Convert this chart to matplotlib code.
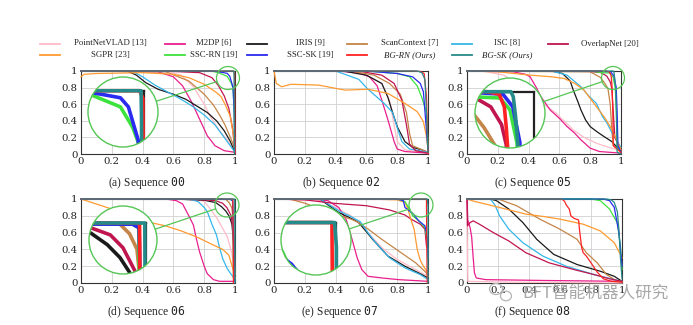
import matplotlib.pyplot as plt
from matplotlib.lines import Line2D
from matplotlib.patches import Circle, Ellipse

W, H = 693, 325

# method keys, legend labels and colours (legend order)
methods = ["PointNetVLAD", "M2DP", "IRIS", "ScanContext", "ISC", "OverlapNet",
           "SGPR", "SSC-RN", "SSC-SK", "BG-RN", "BG-SK"]
labels = ["PointNetVLAD [13]", "M2DP [6]", "IRIS [9]", "ScanContext [7]", "ISC [8]",
          "OverlapNet [20]", "SGPR [23]", "SSC-RN [19]", "SSC-SK [19]",
          "BG-RN (Ours)", "BG-SK (Ours)"]
colors = ["#ffbcc8", "#ea1e8d", "#1a1a1a", "#c58548", "#35b6ea", "#c0164f",
          "#ff9a30", "#3de33d", "#2a2af0", "#ff2222", "#278a8a"]

tick_vals = [0, 0.2, 0.4, 0.6, 0.8, 1]
tick_text = ["0", "0.2", "0.4", "0.6", "0.8", "1"]

# precision-recall curves, (recall, precision)
seq00 = {
    "PointNetVLAD": [(0, 1), (0.55, 1), (0.65, 0.95), (0.73, 0.81), (0.8, 0.6), (0.84, 0.45),
                     (0.9, 0.28), (0.94, 0.19), (1, 0.05)],
    "M2DP": [(0, 1), (0.5, 0.99), (0.6, 0.93), (0.66, 0.82), (0.72, 0.62), (0.77, 0.42),
             (0.82, 0.22), (0.87, 0.1), (0.93, 0.04), (1, 0.02)],
    "IRIS": [(0, 1), (0.3, 1), (0.36, 0.95), (0.42, 0.86), (0.5, 0.78), (0.6, 0.72),
             (0.68, 0.66), (0.75, 0.58), (0.82, 0.5), (0.88, 0.4), (0.93, 0.28),
             (0.97, 0.15), (1, 0.02)],
    "ScanContext": [(0, 1), (0.55, 0.99), (0.7, 0.88), (0.8, 0.72), (0.86, 0.59),
                    (0.9, 0.47), (0.935, 0.35), (0.97, 0.2), (1, 0.06)],
    "ISC": [(0, 1), (0.33, 1), (0.4, 0.93), (0.48, 0.83), (0.56, 0.75), (0.64, 0.67),
            (0.72, 0.58), (0.8, 0.47), (0.87, 0.35), (0.93, 0.2), (1, 0.02)],
    "OverlapNet": [(0, 1), (0.6, 0.995), (0.77, 0.98), (0.85, 0.92), (0.89, 0.83),
                   (0.93, 0.7), (0.96, 0.55), (0.985, 0.3), (1, 0.02)],
    "SGPR": [(0, 0.93), (0.02, 0.96), (0.1, 0.97), (0.4, 0.98), (0.6, 0.96), (0.7, 0.92),
             (0.8, 0.84), (0.88, 0.74), (0.91, 0.69), (0.94, 0.58), (0.97, 0.45),
             (0.99, 0.22), (1, 0.08)],
    "SSC-RN": [(0, 1), (0.84, 1), (0.886, 0.984), (0.949, 0.936), (0.975, 0.856),
               (0.987, 0.796), (0.995, 0.5), (1, 0.02)],
    "SSC-SK": [(0, 1), (0.85, 1), (0.89, 0.992), (0.949, 0.972), (0.966, 0.936),
               (0.987, 0.804), (0.995, 0.5), (1, 0.02)],
    "BG-RN": [(0, 1), (0.99, 1), (0.997, 0.97), (1, 0)],
    "BG-SK": [(0, 1), (0.993, 1), (0.994, 0.9), (0.996, 0)],
}

seq02 = {
    "PointNetVLAD": [(0, 1), (0.45, 1), (0.6, 0.95), (0.7, 0.85), (0.75, 0.65),
                     (0.78, 0.35), (0.8, 0.15), (0.85, 0.05), (1, 0.01)],
    "M2DP": [(0, 1), (0.4, 1), (0.55, 0.98), (0.62, 0.93), (0.67, 0.82), (0.7, 0.65),
             (0.74, 0.41), (0.78, 0.15), (0.8, 0.06), (0.85, 0.03), (1, 0.01)],
    "IRIS": [(0, 1), (0.45, 1), (0.6, 0.95), (0.7, 0.85), (0.74, 0.68), (0.77, 0.5),
             (0.8, 0.33), (0.85, 0.15), (0.9, 0.08), (0.96, 0.05), (1, 0.02)],
    "ScanContext": [(0, 1), (0.5, 1), (0.65, 0.95), (0.75, 0.85), (0.82, 0.72),
                    (0.86, 0.5), (0.88, 0.25), (0.9, 0.1), (1, 0.02)],
    "ISC": [(0, 1), (0.4, 1), (0.55, 0.9), (0.61, 0.78), (0.66, 0.7), (0.72, 0.6),
            (0.77, 0.5), (0.8, 0.32), (0.83, 0.15), (0.88, 0.06), (1, 0.02)],
    "OverlapNet": [(0, 1), (0.55, 1), (0.7, 0.95), (0.78, 0.85), (0.83, 0.65),
                   (0.86, 0.35), (0.88, 0.12), (0.92, 0.04), (1, 0.01)],
    "SGPR": [(0, 1), (0.015, 0.85), (0.05, 0.81), (0.11, 0.84), (0.29, 0.83),
             (0.46, 0.77), (0.61, 0.78), (0.74, 0.73), (0.85, 0.61), (0.93, 0.51),
             (0.97, 0.39), (0.99, 0.21), (1, 0.05)],
    "SSC-RN": [(0, 1), (0.6, 1), (0.8, 0.97), (0.88, 0.93), (0.93, 0.82), (0.96, 0.68),
               (0.99, 0.5), (1, 0.1)],
    "SSC-SK": [(0, 1), (0.6, 1), (0.8, 0.97), (0.9, 0.93), (0.95, 0.85), (0.97, 0.75),
               (0.985, 0.4), (1, 0.05)],
    "BG-RN": [(0, 1), (0.9, 1), (0.95, 0.995), (0.975, 0.97), (0.99, 0.7), (1, 0)],
    "BG-SK": [(0, 1), (0.93, 1), (0.96, 0.98), (0.98, 0.9), (0.99, 0.5), (1, 0.02)],
}

seq05 = {
    "PointNetVLAD": [(0, 1), (0.1, 1), (0.24, 0.95), (0.32, 0.85), (0.41, 0.73),
                     (0.5, 0.6), (0.58, 0.49), (0.69, 0.29), (0.76, 0.2), (0.84, 0.13),
                     (0.92, 0.08), (1, 0.04)],
    "M2DP": [(0, 1), (0.3, 0.99), (0.38, 0.96), (0.41, 0.93), (0.45, 0.8), (0.48, 0.69),
             (0.54, 0.53), (0.6, 0.43), (0.65, 0.33), (0.7, 0.25), (0.74, 0.17),
             (0.8, 0.07), (0.86, 0.03), (1, 0.01)],
    "IRIS": [(0, 1), (0.55, 1), (0.62, 0.97), (0.67, 0.88), (0.69, 0.77), (0.72, 0.63),
             (0.74, 0.53), (0.77, 0.41), (0.8, 0.33), (0.85, 0.26), (0.89, 0.21),
             (0.94, 0.15), (0.97, 0.09), (1, 0.04)],
    "ScanContext": [(0, 1), (0.8, 0.99), (0.865, 0.924), (0.893, 0.857), (0.915, 0.79),
                    (0.93, 0.6), (0.94, 0.3), (0.95, 0.1), (1, 0.02)],
    "ISC": [(0, 1), (0.55, 1), (0.65, 0.95), (0.74, 0.81), (0.79, 0.7), (0.84, 0.61),
            (0.88, 0.45), (0.91, 0.37), (0.94, 0.26), (0.97, 0.17), (1, 0.08)],
    "OverlapNet": [(0, 1), (0.8, 0.995), (0.87, 0.98), (0.907, 0.94), (0.93, 0.87),
                   (0.94, 0.79), (0.95, 0.5), (0.96, 0.2), (1, 0.05)],
    "SGPR": [(0, 1), (0.2, 0.99), (0.41, 0.95), (0.55, 0.93), (0.63, 0.91), (0.7, 0.85),
             (0.76, 0.77), (0.8, 0.67), (0.84, 0.57), (0.89, 0.45), (0.93, 0.33),
             (0.97, 0.18), (1, 0.05)],
    "SSC-RN": [(0, 1), (0.8, 1), (0.88, 0.979), (0.927, 0.975), (0.948, 0.928),
               (0.963, 0.797), (0.97, 0.5), (0.975, 0.1), (1, 0.02)],
    "SSC-SK": [(0, 1), (0.85, 1), (0.888, 0.995), (0.933, 0.99), (0.954, 0.94),
               (0.969, 0.8), (0.975, 0.5), (0.98, 0.1), (1, 0.02)],
    "BG-RN": [(0, 1), (0.9, 1), (0.925, 0.99), (0.936, 0.94), (0.94, 0.86),
              (0.943, 0.78), (0.947, 0.5), (0.95, 0.1), (1, 0.02)],
    "BG-SK": [(0, 1), (0.95, 1), (0.955, 0.98), (0.96, 0.9), (0.965, 0.79),
              (0.97, 0.5), (0.975, 0.02), (1, 0)],
}

seq06 = {
    "PointNetVLAD": [(0, 1), (0.74, 1), (0.8, 0.97), (0.84, 0.88), (0.88, 0.78),
                     (0.92, 0.65), (0.95, 0.55), (0.98, 0.35), (1, 0.1)],
    "M2DP": [(0, 1), (0.55, 1), (0.62, 0.98), (0.66, 0.94), (0.7, 0.8), (0.73, 0.69),
             (0.75, 0.52), (0.77, 0.37), (0.8, 0.2), (0.82, 0.11), (0.86, 0.04),
             (0.9, 0.02), (1, 0.02)],
    "IRIS": [(0, 1), (0.6, 1), (0.8, 0.985), (0.874, 0.958), (0.912, 0.909),
             (0.941, 0.855), (0.963, 0.793), (0.98, 0.7), (0.99, 0.5), (1, 0.1)],
    "ScanContext": [(0, 1), (0.9, 1), (0.941, 0.995), (0.963, 0.955), (0.98, 0.89),
                    (0.985, 0.8), (0.995, 0.5), (1, 0.1)],
    "ISC": [(0, 1), (0.7, 1), (0.76, 0.97), (0.8, 0.9), (0.82, 0.85), (0.85, 0.7),
            (0.88, 0.57), (0.9, 0.42), (0.92, 0.29), (0.95, 0.17), (0.98, 0.09),
            (1, 0.05)],
    "OverlapNet": [(0, 1), (0.6, 1), (0.8, 0.99), (0.874, 0.98), (0.919, 0.95),
                   (0.948, 0.896), (0.975, 0.8), (0.99, 0.6), (1, 0.2)],
    "SGPR": [(0, 1), (0.15, 0.91), (0.3, 0.82), (0.45, 0.72), (0.55, 0.68), (0.65, 0.62),
             (0.75, 0.55), (0.85, 0.46), (0.92, 0.4), (0.96, 0.33), (0.99, 0.15),
             (1, 0.05)],
    "SSC-RN": [(0, 1), (0.97, 0.995), (0.984, 0.98), (0.988, 0.5), (0.99, 0.05), (1, 0.02)],
    "SSC-SK": [(0, 1), (0.97, 0.995), (0.985, 0.98), (0.99, 0.5), (0.993, 0.05), (1, 0.02)],
    "BG-RN": [(0, 1), (0.986, 1), (0.988, 0.5), (0.99, 0)],
    "BG-SK": [(0, 1), (0.998, 1), (1, 0)],
}

seq07 = {
    "PointNetVLAD": [(0, 1), (0.3, 0.98), (0.4, 0.9), (0.46, 0.84), (0.5, 0.8),
                     (0.6, 0.62), (0.7, 0.42), (0.8, 0.28), (0.9, 0.18), (1, 0.08)],
    "M2DP": [(0, 1), (0.25, 1), (0.35, 0.98), (0.42, 0.9), (0.47, 0.75), (0.51, 0.5),
             (0.54, 0.3), (0.57, 0.16), (0.61, 0.08), (0.7, 0.06), (0.81, 0.04),
             (1, 0.02)],
    "IRIS": [(0, 1), (0.3, 1), (0.35, 0.93), (0.42, 0.84), (0.5, 0.77), (0.55, 0.72),
             (0.6, 0.61), (0.64, 0.52), (0.74, 0.32), (0.85, 0.2), (0.95, 0.11),
             (1, 0.06)],
    "ScanContext": [(0, 1), (0.1, 1), (0.2, 0.95), (0.3, 0.88), (0.4, 0.82), (0.5, 0.76),
                    (0.55, 0.72), (0.62, 0.63), (0.7, 0.52), (0.81, 0.38), (0.92, 0.24),
                    (0.99, 0.12), (1, 0.08)],
    "ISC": [(0, 1), (0.3, 1), (0.36, 0.93), (0.43, 0.85), (0.5, 0.79), (0.56, 0.73),
            (0.61, 0.6), (0.66, 0.48), (0.75, 0.3), (0.85, 0.18), (0.95, 0.1),
            (1, 0.04)],
    "OverlapNet": [(0, 1), (0.2, 0.99), (0.38, 0.95), (0.6, 0.92), (0.75, 0.87),
                   (0.85, 0.81), (0.89, 0.76), (0.95, 0.7), (0.98, 0.64), (0.99, 0.44),
                   (1, 0.4)],
    "SGPR": [(0, 1), (0.6, 1), (0.8, 0.99), (0.85, 0.96), (0.87, 0.88), (0.89, 0.75),
             (0.91, 0.64), (0.93, 0.4), (0.95, 0.27), (0.97, 0.2), (1, 0.12)],
    "SSC-RN": [(0, 1), (0.8, 1), (0.85, 0.97), (0.88, 0.88), (0.9, 0.8), (0.94, 0.74),
               (0.98, 0.66), (0.995, 0.5), (1, 0.3)],
    "SSC-SK": [(0, 1), (0.8, 1), (0.84, 0.98), (0.85, 0.9), (0.9, 0.83), (0.94, 0.74),
               (0.98, 0.68), (0.99, 0.6), (0.995, 0.5), (1, 0.3)],
    "BG-RN": [(0, 1), (0.99, 1), (0.992, 0.5), (0.995, 0)],
    "BG-SK": [(0, 1), (0.996, 1), (1, 0.9), (1, 0)],
}

seq08 = {
    "PointNetVLAD": [(0, 1), (0.002, 0.5), (0.005, 0.02), (0.3, 0.01), (1, 0)],
    "M2DP": [(0, 1), (0.005, 0.75), (0.02, 0.66), (0.03, 0.55), (0.04, 0.3),
             (0.048, 0.12), (0.06, 0.06), (0.12, 0.04), (0.5, 0.03), (1, 0.02)],
    "IRIS": [(0, 1), (0.15, 1), (0.19, 0.98), (0.27, 0.88), (0.36, 0.72), (0.45, 0.52),
             (0.56, 0.34), (0.71, 0.22), (0.86, 0.14), (0.95, 0.08), (1, 0.02)],
    "ScanContext": [(0, 1), (0.2, 1), (0.32, 0.92), (0.47, 0.76), (0.6, 0.64),
                    (0.71, 0.52), (0.77, 0.36), (0.84, 0.24), (0.9, 0.1), (0.97, 0.02),
                    (1, 0.01)],
    "ISC": [(0, 1), (0.15, 1), (0.18, 0.93), (0.21, 0.8), (0.27, 0.64), (0.36, 0.48),
            (0.49, 0.32), (0.64, 0.2), (0.82, 0.1), (0.95, 0.04), (1, 0.02)],
    "OverlapNet": [(0, 1), (0.003, 0.68), (0.02, 0.72), (0.04, 0.74), (0.08, 0.7),
                   (0.17, 0.6), (0.27, 0.5), (0.38, 0.36), (0.53, 0.24), (0.69, 0.16),
                   (0.82, 0.1), (0.92, 0.05), (1, 0.02)],
    "SGPR": [(0, 1), (0.05, 0.97), (0.12, 0.94), (0.25, 0.88), (0.38, 0.82), (0.5, 0.79),
             (0.6, 0.76), (0.75, 0.7), (0.86, 0.62), (0.95, 0.48), (0.99, 0.34),
             (1, 0.3)],
    "SSC-RN": [(0, 1), (0.8, 1), (0.86, 0.98), (0.92, 0.88), (0.95, 0.78), (0.97, 0.72),
               (0.99, 0.44), (1, 0.16)],
    "SSC-SK": [(0, 1), (0.88, 1), (0.92, 0.98), (0.95, 0.9), (0.96, 0.8), (0.98, 0.6),
               (0.99, 0.4), (1, 0.2)],
    "BG-RN": [(0, 1), (0.6, 1), (0.62, 0.99), (0.63, 0.97), (0.64, 0.93), (0.66, 0.88),
              (0.67, 0.8), (0.69, 0.77), (0.72, 0.75), (0.725, 0.65), (0.73, 0.57),
              (0.74, 0.42), (0.75, 0.36), (0.77, 0.32), (0.8, 0.24), (0.84, 0.13),
              (0.88, 0.05), (0.93, 0.02), (1, 0.01)],
    "BG-SK": [(0, 1), (0.9, 1), (0.93, 0.99), (0.95, 0.96), (0.97, 0.85), (0.98, 0.64),
              (0.99, 0.3), (1, 0.05)],
}

GREEN = "#55c655"


def px_box(x0, y0, x1, y1):
    # pixel box (y downwards) -> figure fraction rect
    return [x0 / W, 1 - y1 / H, (x1 - x0) / W, (y1 - y0) / H]


def draw_curves(ax, curves, lw, clip_path=None):
    for m, c in zip(methods, colors):
        r, p = zip(*curves[m])
        ln, = ax.plot(r, p, color=c, lw=lw, zorder=3, solid_joinstyle="round")
        if clip_path is None:
            ln.set_clip_on(False)
        else:
            ln.set_clip_path(clip_path)


def draw_spy(fig, box, curves, small, rs, big, rb):
    x0, y0, x1, y1 = box
    sx, sy = small
    bx, by = big
    cx = (sx - x0) / (x1 - x0)
    cy = (y1 - sy) / (y1 - y0)
    dx = rs / (x1 - x0)
    dy = rs / (y1 - y0)

    ins = fig.add_axes(px_box(bx - rb, by - rb, bx + rb, by + rb))
    ins.set_axis_off()
    ins.set_xlim(cx - dx, cx + dx)
    ins.set_ylim(cy - dy, cy + dy)
    disc = Circle((0.5, 0.5), 0.5, transform=ins.transAxes, facecolor="white",
                  edgecolor="none", zorder=1)
    ins.add_patch(disc)
    # magnified plot frame corner
    for xs, ys in (([0, 1], [1, 1]), ([1, 1], [0, 1])):
        fr, = ins.plot(xs, ys, color="#222222", lw=1.6, zorder=2.5)
        fr.set_clip_path(disc)
    draw_curves(ins, curves, 2.6, clip_path=disc)
    ring = Circle((0.5, 0.5), 0.5, transform=ins.transAxes, fill=False,
                  edgecolor=GREEN, lw=1.0, zorder=5, clip_on=False)
    ins.add_patch(ring)

    # small circle and the connecting line, drawn in inches
    t = fig.dpi_scale_trans
    fig.add_artist(Circle((sx / 100, (H - sy) / 100), rs / 100, transform=t,
                          fill=False, edgecolor=GREEN, lw=0.9, zorder=6))
    vx, vy = sx - bx, sy - by
    d = (vx ** 2 + vy ** 2) ** 0.5
    ux, uy = vx / d, vy / d
    p0 = (bx + rb * ux, by + rb * uy)
    p1 = (sx - rs * ux, sy - rs * uy)
    fig.add_artist(Line2D([p0[0] / 100, p1[0] / 100], [(H - p0[1]) / 100, (H - p1[1]) / 100],
                          transform=t, color=GREEN, lw=0.9, zorder=6))


plt.rcParams["font.family"] = ["Liberation Serif", "DejaVu Sans"]

fig = plt.figure(figsize=(W / 100, H / 100), dpi=100)

panels = [
    ("a", "00", seq00, (81, 71, 235, 154), 147, 183, ((228, 78), 11.5, (123, 112), 35)),
    ("b", "02", seq02, (274, 71, 428, 154), 341, 183, None),
    ("c", "05", seq05, (467, 71, 621, 154), 533, 183, ((613, 78), 11.5, (510, 113), 35)),
    ("d", "06", seq06, (81, 199, 235, 283), 146, 312, ((227, 205), 12, (123, 240), 34)),
    ("e", "07", seq07, (274, 199, 428, 283), 340, 312, ((421, 205), 12, (316, 240), 35)),
    ("f", "08", seq08, (467, 199, 622, 283), 532, 312, None),
]

for letter, num, curves, box, cap_x, cap_y, spy in panels:
    ax = fig.add_axes(px_box(*box))
    draw_curves(ax, curves, 0.9)
    ax.set_xlim(0, 1)
    ax.set_ylim(0, 1)
    ax.set_xticks(tick_vals)
    ax.set_xticklabels(tick_text)
    ax.set_yticks(tick_vals)
    ax.set_yticklabels(tick_text)
    ax.tick_params(length=0, pad=2.5, labelsize=7.3, labelcolor="#222222")
    for lab in ax.get_xticklabels() + ax.get_yticklabels():
        lab.set_family("DejaVu Serif")
    ax.grid(color="#d0d0d0", lw=0.6)
    ax.set_axisbelow(True)
    for s in ax.spines.values():
        s.set_color("#333333")
        s.set_linewidth(0.8)
    fig.text(cap_x / W, 1 - cap_y / H, f"({letter}) Sequence $\\mathtt{{{num}}}$",
             ha="center", va="center", fontsize=8.3, color="#222222")
    if spy is not None:
        draw_spy(fig, box, curves, *spy)

# legend, two rows of six columns
line_x = [40, 165, 247, 347, 452, 548]
text_x = [110, 214, 310, 410, 507, 610]
row_y = [43.5, 55]
for i, (lab, c) in enumerate(zip(labels, colors)):
    row, col = divmod(i, 6)
    y = 1 - row_y[row] / H
    fig.add_artist(Line2D([line_x[col] / W, (line_x[col] + 20) / W], [y, y],
                          transform=fig.transFigure, color=c, lw=1.3))
    style = "italic" if "Ours" in lab else "normal"
    fig.text(text_x[col] / W, y, lab, ha="center", va="center", fontsize=6.3,
             style=style, color="#222222")

# watermark
t = fig.dpi_scale_trans
fig.add_artist(Ellipse((4.96, (H - 289) / 100), 0.13, 0.11, transform=t, fill=False,
                       edgecolor="#b4b4b4", lw=0.9))
fig.add_artist(Ellipse((5.06, (H - 296) / 100), 0.11, 0.095, transform=t, fill=False,
                       edgecolor="#b4b4b4", lw=0.9))
fig.text(522 / W, 1 - 293 / H, "BFT智能机器人研究", ha="left", va="center", fontsize=12,
         color="#a8a8a8", family=["Noto Sans CJK SC", "DejaVu Sans"])

fig.savefig("out.png", dpi=100, facecolor="white")
